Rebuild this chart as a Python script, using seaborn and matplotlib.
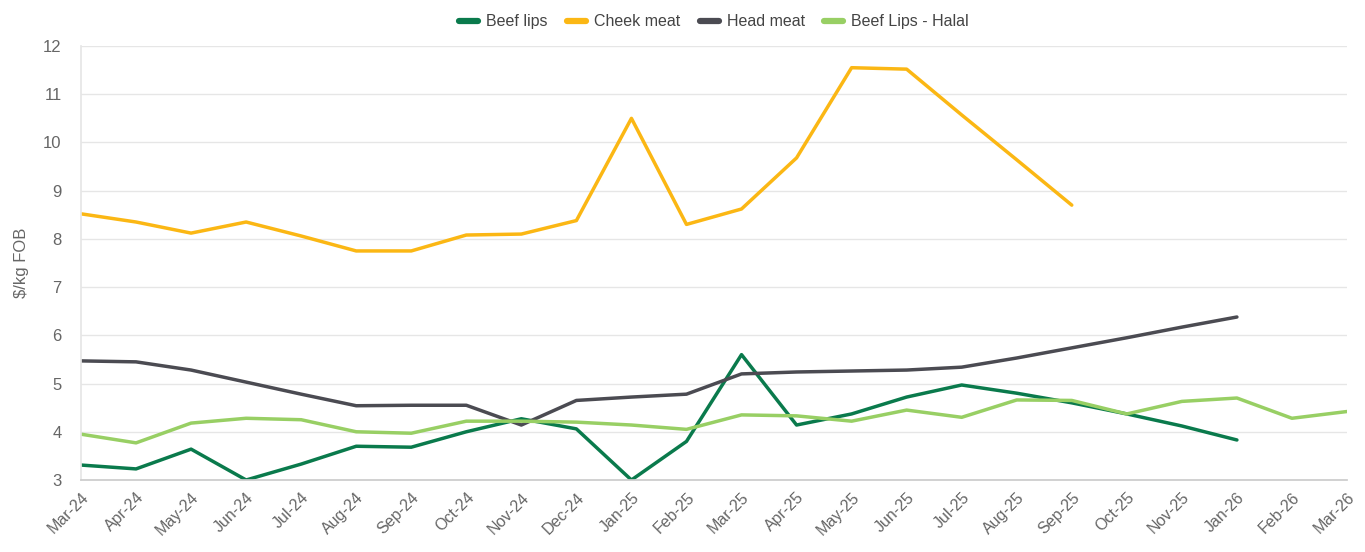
import numpy as np
import pandas as pd
import matplotlib
matplotlib.use("Agg")
import matplotlib.pyplot as plt
import seaborn as sns

months = ["Mar-24", "Apr-24", "May-24", "Jun-24", "Jul-24", "Aug-24", "Sep-24", "Oct-24",
          "Nov-24", "Dec-24", "Jan-25", "Feb-25", "Mar-25", "Apr-25", "May-25", "Jun-25",
          "Jul-25", "Aug-25", "Sep-25", "Oct-25", "Nov-25", "Jan-26", "Feb-26", "Mar-26"]
nan = np.nan
beef_lips = [3.31, 3.23, 3.64, 3.00, 3.33, 3.70, 3.68, 4.00, 4.27, 4.06, 3.00, 3.80,
             5.60, 4.14, 4.37, 4.72, 4.97, 4.80, 4.60, 4.37, 4.12, 3.83, nan, nan]
cheek_meat = [8.52, 8.35, 8.12, 8.35, 8.06, 7.75, 7.75, 8.08, 8.10, 8.38, 10.50, 8.30,
              8.62, 9.68, 11.55, 11.52, 10.57, 9.64, 8.70, nan, nan, nan, nan, nan]
head_meat = [5.47, 5.45, 5.28, 5.03, 4.78, 4.54, 4.55, 4.55, 4.14, 4.65, 4.72, 4.78,
             5.20, 5.24, 5.26, 5.28, 5.34, 5.53, 5.74, 5.95, 6.17, 6.38, nan, nan]
beef_lips_halal = [3.95, 3.77, 4.18, 4.28, 4.25, 4.00, 3.97, 4.22, 4.22, 4.20, 4.14, 4.05,
                   4.35, 4.33, 4.22, 4.45, 4.30, 4.66, 4.65, 4.37, 4.63, 4.70, 4.28, 4.42]
series_names = ["Beef lips", "Cheek meat", "Head meat", "Beef Lips - Halal"]
colors = ["#0a7a4c", "#fbb714", "#4b4b52", "#98cf64"]

frames = []
for name, vals in zip(series_names, [beef_lips, cheek_meat, head_meat, beef_lips_halal]):
    frames.append(pd.DataFrame({"idx": np.arange(len(months)), "month": months,
                                "value": vals, "series": name}))
df = pd.concat(frames, ignore_index=True).dropna()

sns.set_theme(style="white")
plt.rcParams["font.family"] = ["Liberation Sans Narrow", "Liberation Sans", "DejaVu Sans"]

fig = plt.figure(figsize=(13.65, 5.52), dpi=100)
ax = fig.add_axes([81 / 1365, 1 - 480 / 552, (1347 - 81) / 1365, (480 - 46) / 552])

sns.lineplot(data=df, x="idx", y="value", hue="series", hue_order=series_names,
             palette=dict(zip(series_names, colors)), linewidth=2.5, ax=ax,
             legend=True)

ax.set_xlim(0, len(months) - 1)
ax.set_ylim(3, 12)
ax.set_yticks(range(3, 13))
ax.set_xticks(range(len(months)))
ax.set_xticklabels(months, rotation=45, ha="right", rotation_mode="anchor")
ax.tick_params(axis="x", colors="#666666", labelsize=11.5, length=0, pad=7)
ax.tick_params(axis="y", colors="#666666", labelsize=12, length=0, pad=14)
ax.set_xlabel("")
ax.set_ylabel("$/kg FOB", color="#666666", fontsize=12, labelpad=10)
ax.grid(axis="y", color="#e6e6e6", linewidth=1)
ax.grid(axis="x", visible=False)
for s in ["top", "right"]:
    ax.spines[s].set_visible(False)
ax.spines["left"].set_color("#e6e6e6")
ax.spines["bottom"].set_color("#cccccc")

handles, labels = ax.get_legend_handles_labels()
for h in handles:
    h.set_linewidth(4.5)
ax.legend(handles, labels, loc="lower center", bbox_to_anchor=(0.5, 1.005), ncol=4,
          frameon=False, fontsize=11.5, handlelength=1.2, columnspacing=1.2,
          handletextpad=0.5, labelcolor="#444444")

fig.savefig("out.png", dpi=100)
